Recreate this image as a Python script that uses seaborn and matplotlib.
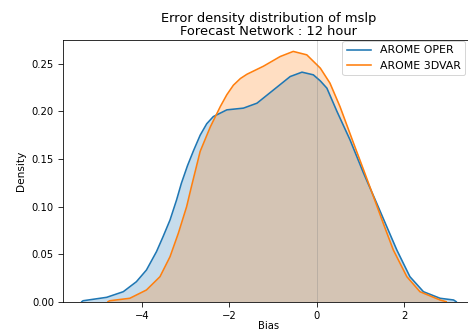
import matplotlib
matplotlib.use("Agg")
import matplotlib.pyplot as plt
from matplotlib.lines import Line2D
import seaborn as sns
import pandas as pd

# Bias grid and density values
oper_x = [-5.38, -5.35, -4.81, -4.43, -4.13, -3.90, -3.67, -3.52, -3.36, -3.21, -3.10,
          -2.96, -2.82, -2.67, -2.52, -2.37, -2.06, -1.68, -1.37, -0.99, -0.61, -0.34, -0.08, 0.08,
          0.23, 0.46, 0.76, 1.07, 1.37, 1.60, 1.83, 2.13, 2.44, 2.82, 3.13, 3.19]
oper_y = [0.0, 0.001, 0.0046, 0.0105, 0.021, 0.0333, 0.0526, 0.0683, 0.0859, 0.107, 0.1245,
          0.143, 0.159, 0.175, 0.187, 0.1945, 0.2016, 0.2034, 0.2086, 0.2226, 0.2366, 0.2412, 0.2384, 0.232,
          0.2244, 0.200, 0.170, 0.135, 0.1035, 0.0789, 0.0544, 0.0263, 0.0105, 0.0036, 0.0018, 0.0]

dvar_x = [-4.78, -4.74, -4.28, -3.90, -3.59, -3.36, -3.17, -2.98, -2.87, -2.67, -2.44,
          -2.21, -2.06, -1.91, -1.75, -1.60, -1.22, -0.84, -0.54, -0.23, 0.08, 0.30, 0.53, 0.84,
          1.07, 1.30, 1.52, 1.75, 2.06, 2.36, 2.82, 2.96]
dvar_y = [0.0, 0.001, 0.0036, 0.0123, 0.0263, 0.0473, 0.0719, 0.0999, 0.121, 0.158, 0.1835,
          0.205, 0.2175, 0.2275, 0.2345, 0.239, 0.2475, 0.2576, 0.263, 0.2594, 0.2454, 0.2297, 0.205, 0.1666,
          0.1385, 0.110, 0.0824, 0.0544, 0.0263, 0.0105, 0.0018, 0.0]

labels = ["AROME OPER", "AROME 3DVAR"]
colors = ["#1f77b4", "#ff7f0e"]

df = pd.concat([
    pd.DataFrame({"Bias": oper_x, "Density": oper_y, "model": labels[0]}),
    pd.DataFrame({"Bias": dvar_x, "Density": dvar_y, "model": labels[1]}),
])

fig = plt.figure(figsize=(468 / 72, 331 / 72), dpi=72)
ax = fig.add_axes([63 / 468, 1 - 301.7 / 331, (475 - 63) / 468, (301.7 - 40) / 331])

sns.lineplot(data=df, x="Bias", y="Density", hue="model", palette=colors,
             hue_order=labels, ax=ax, linewidth=1.6, legend=False)
for (xs, ys), c in zip([(oper_x, oper_y), (dvar_x, dvar_y)], colors):
    ax.fill_between(xs, 0, ys, color=c, alpha=0.25, linewidth=0)

ax.axvline(0, color="grey", alpha=0.3, linewidth=1)

ax.set_xlim(-5.81, 3.62)
ax.set_ylim(0, 0.275)
ax.set_xticks([-4, -2, 0, 2])
ax.set_yticks([0.0, 0.05, 0.10, 0.15, 0.20, 0.25])
ax.tick_params(length=5, pad=4, labelsize=10)
ax.set_xlabel("Bias", fontsize=10, labelpad=0.5)
ax.set_ylabel("Density", fontsize=10.5, labelpad=6)
ax.set_title("Error density distribution of mslp\nForecast Network : 12 hour",
             fontsize=13, linespacing=1.0, pad=5)

handles = [Line2D([], [], color=c, linewidth=1.6) for c in colors]
ax.legend(handles, labels, loc="upper right", fontsize=11,
          bbox_to_anchor=(465 / 468, 1 - 41 / 331), bbox_transform=fig.transFigure,
          borderaxespad=0, handlelength=2.2)

fig.savefig("out.png", dpi=72)
